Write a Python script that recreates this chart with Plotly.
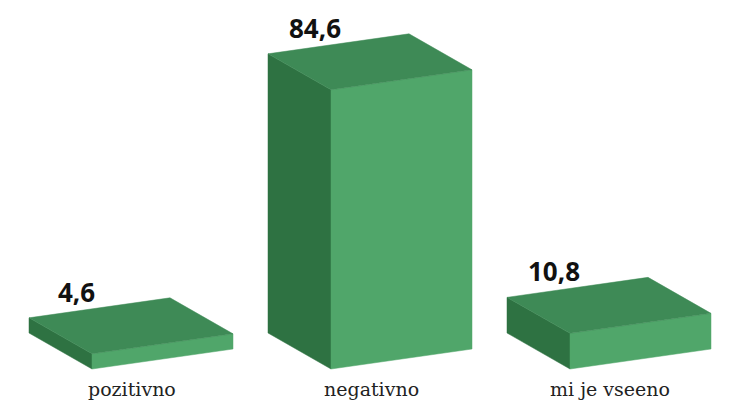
import plotly.graph_objects as go

# ---- data ----
categories = ["pozitivno", "negativno", "mi je vseeno"]
values = [4.6, 84.6, 10.8]
value_labels = ["4,6", "84,6", "10,8"]

# ---- styling / geometry (pixels -> axis units) ----
W, H = 730, 406
PX_PER_CAT = 239.0          # pixels per category step on x
PX_PER_VAL = 3.3            # pixels per value unit on y
FIRST_CENTER_PX = 132.0
BASELINE_PX = 369.0

x0 = -FIRST_CENTER_PX / PX_PER_CAT
x1 = (W - FIRST_CENTER_PX) / PX_PER_CAT
y0 = -(H - BASELINE_PX) / PX_PER_VAL
y1 = BASELINE_PX / PX_PER_VAL

front_off = -40 / PX_PER_CAT
wid = (141 / PX_PER_CAT, 20 / PX_PER_VAL)      # width vector
dep = (-63 / PX_PER_CAT, 36 / PX_PER_VAL)      # depth vector

C_FRONT = "#50A66A"
C_SIDE = "#2E7242"
C_TOP = "#3E8A56"

fig = go.Figure()


def face(pts, color):
    xs = [p[0] for p in pts] + [pts[0][0]]
    ys = [p[1] for p in pts] + [pts[0][1]]
    fig.add_trace(go.Scatter(x=xs, y=ys, mode="lines", fill="toself",
                             fillcolor=color, line=dict(color=color, width=0.5),
                             hoverinfo="skip", showlegend=False))


for i, (cat, v, lab) in enumerate(zip(categories, values, value_labels)):
    c = float(i)
    fl0 = (c + front_off, 0.0)
    fr0 = (fl0[0] + wid[0], fl0[1] + wid[1])
    bl0 = (fl0[0] + dep[0], fl0[1] + dep[1])
    fl1 = (fl0[0], v)
    fr1 = (fr0[0], fr0[1] + v)
    bl1 = (bl0[0], bl0[1] + v)
    br1 = (bl1[0] + wid[0], bl1[1] + wid[1])
    face([bl0, fl0, fl1, bl1], C_SIDE)
    face([fl0, fr0, fr1, fl1], C_FRONT)
    face([fl1, fr1, br1, bl1], C_TOP)
    fig.add_annotation(x=bl1[0], y=bl1[1], text=f"<b>{lab}</b>", showarrow=False,
                       xshift=47, yshift=26,
                       font=dict(family="Noto Sans", size=26, color="#111111"))
    fig.add_annotation(x=c, y=-20 / PX_PER_VAL, text=cat, showarrow=False,
                       font=dict(family="DejaVu Serif", size=19, color="#222222"))

fig.update_xaxes(range=[x0, x1], visible=False, fixedrange=True)
fig.update_yaxes(range=[y0, y1], visible=False, fixedrange=True)
fig.update_layout(width=W, height=H, margin=dict(l=0, r=0, t=0, b=0),
                  paper_bgcolor="white", plot_bgcolor="white")

fig.write_html("out.html")
